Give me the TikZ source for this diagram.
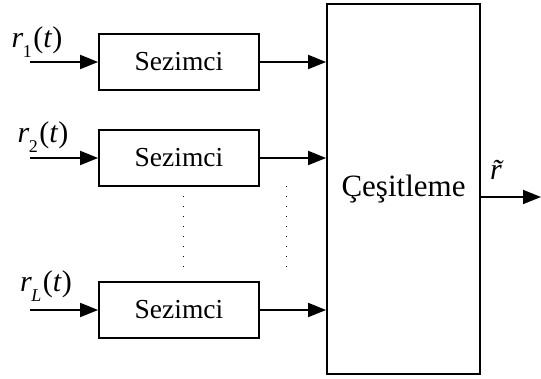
\documentclass[tikz,border=0pt]{standalone}
\usepackage{fontspec}
\setmainfont{Liberation Serif}
\usetikzlibrary{arrows.meta}

% received signal label r_k(t)
\newcommand\sigr[1]{\textit{r}\kern-0.5pt\raisebox{-0.32em}{\fontsize{18}{18}\selectfont #1}\kern1.5pt(\textit{t})}

\begin{document}
\begin{tikzpicture}[x=1pt,y=-1pt,
  line width=1.8pt,
  blockbox/.style={draw, minimum width=160pt, minimum height=56pt, inner sep=0pt,
                   font=\fontsize{27.5}{27.5}\selectfont},
  combbox/.style={draw, minimum width=153pt, minimum height=370pt, inner sep=0pt,
                  font=\fontsize{31}{31}\selectfont},
  sigarrow/.style={-{Triangle[length=18pt,width=14pt]}},
  siglabel/.style={font=\fontsize{30}{30}\selectfont, inner sep=0pt},
  dotline/.style={line width=1pt, dash pattern=on 1pt off 9pt}
]
\useasboundingbox (0,0) rectangle (541,379);

% detector blocks
\node[blockbox] (s1) at (179,62)  {Sezimci};
\node[blockbox] (s2) at (179,158) {Sezimci};
\node[blockbox] (s3) at (179,310) {Sezimci};

% combiner
\node[combbox] (comb) at (403.5,189) {Çeşitleme};

% inputs
\coordinate (in1) at (30,62);
\coordinate (in2) at (30,158);
\coordinate (in3) at (30,310);
\draw[sigarrow] (in1) -- (s1.west);
\draw[sigarrow] (in2) -- (s2.west);
\draw[sigarrow] (in3) -- (s3.west);

\node[siglabel] (l1) at (37,42)  {\sigr{1}};
\node[siglabel] (l2) at (43,137) {\sigr{2}};
\node[siglabel] (l3) at (46,286) {\sigr{\textit{L}}};

% detector outputs into the combiner
\draw[sigarrow] (s1.east) -- (s1.east -| comb.west);
\draw[sigarrow] (s2.east) -- (s2.east -| comb.west);
\draw[sigarrow] (s3.east) -- (s3.east -| comb.west);

% continuation dots between branch 2 and branch L
\coordinate (d1a) at (183,196);
\coordinate (d1b) at (183,276);
\coordinate (d2a) at (286,186);
\coordinate (d2b) at (286,276);
\draw[dotline] (d1a) -- (d1b);
\draw[dotline] (d2a) -- (d2b);

% combiner output
\coordinate (out) at (541,197);
\draw[sigarrow] (comb.east |- out) -- (out);
\node[siglabel] (rt) at (502,170) {\textit{r̃}};
\end{tikzpicture}
\end{document}
